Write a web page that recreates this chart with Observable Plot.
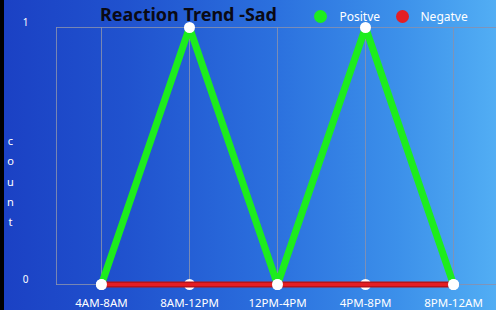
<!DOCTYPE html>
<html>
<head>
<meta charset="utf-8">
<script src="https://cdn.jsdelivr.net/npm/d3@7"></script>
<script src="https://cdn.jsdelivr.net/npm/@observablehq/plot@0.6"></script>
<style>
  html, body { margin: 0; padding: 0; overflow: hidden; background: #000; width: 496px; height: 310px; }
  #chart { width: 497px; height: 310px; }
</style>
</head>
<body>
<div id="chart"></div>
<script>
const categories = ["4AM-8AM", "8AM-12PM", "12PM-4PM", "4PM-8PM", "8PM-12AM"];
const positive = [0, 1, 0, 1, 0];
const negative = [0, 0, 0, 0, 0];
const seriesNames = ["Positve", "Negatve"];
const seriesColors = ["#1ded1d", "#e41e24"];
const yTicks = [0, 1];
const title = "Reaction Trend -Sad";
const yLabel = "count";

const posData = categories.map((c, i) => ({cat: c, value: positive[i]}));
const negData = categories.map((c, i) => ({cat: c, value: negative[i]}));

const gridColor = "rgba(135,145,175,0.85)";

const chart = Plot.plot({
  width: 497,
  height: 310,
  marginLeft: 56,
  marginRight: 0,
  marginTop: 27,
  marginBottom: 26,
  style: {
    background: "linear-gradient(to right, #000 0px, #000 4px, #1b41c4 4px, #2052ce 25%, #2b70de 55%, #3c90ea 80%, #52aef4 100%)",
    fontFamily: "'Noto Sans', sans-serif",
    color: "white",
    maxWidth: "none"
  },
  x: {type: "point", domain: categories, padding: 0.5, label: null},
  y: {domain: [0, 1], label: null},
  marks: [
    Plot.ruleY(yTicks, {stroke: gridColor, strokeWidth: 1}),
    Plot.ruleX(categories, {stroke: gridColor, strokeWidth: 1}),
    Plot.frame({anchor: "left", stroke: gridColor}),
    Plot.axisX({tickSize: 0, tickPadding: 14, fontSize: 11.5, fill: "white", label: null}),
    Plot.axisY({ticks: yTicks, tickFormat: "d", tickSize: 0, tickPadding: 28, dy: -5, fontSize: 10, fill: "white", label: null}),
    Plot.lineY(posData, {x: "cat", y: "value", stroke: seriesColors[0], strokeWidth: 7, strokeLinejoin: "miter"}),
    Plot.dot(negData, {x: "cat", y: "value", r: 5.5, fill: "white"}),
    Plot.lineY(negData, {x: "cat", y: "value", stroke: "#b81418", strokeWidth: 6}),
    Plot.lineY(negData, {x: "cat", y: "value", stroke: seriesColors[1], strokeWidth: 3}),
    Plot.dot(posData, {x: "cat", y: "value", r: 5.5, fill: "white"}),
    // title
    Plot.text([title], {frameAnchor: "top-left", dx: 132, dy: -12, lineAnchor: "middle", text: d => d, fontSize: 18, fontWeight: "bold", fill: "#0a0a14", textAnchor: "middle"}),
    // legend
    Plot.dot([seriesNames[0]], {frameAnchor: "top-left", dx: 264, dy: -11, r: 6.5, fill: seriesColors[0]}),
    Plot.dot([seriesNames[1]], {frameAnchor: "top-left", dx: 346, dy: -11, r: 6.5, fill: seriesColors[1]}),
    Plot.text([seriesNames[0]], {frameAnchor: "top-left", dx: 283, dy: -10, lineAnchor: "middle", text: d => d, fontSize: 12, fill: "white", textAnchor: "start"}),
    Plot.text([seriesNames[1]], {frameAnchor: "top-left", dx: 364, dy: -10, lineAnchor: "middle", text: d => d, fontSize: 12, fill: "white", textAnchor: "start"}),
    // y label stacked
    Plot.text([yLabel], {frameAnchor: "left", dx: -46, dy: 23, text: d => d.split("").join("\n"), lineHeight: 1.85, fontSize: 11, fill: "white", textAnchor: "middle"})
  ]
});
document.getElementById("chart").appendChild(chart);
</script>
</body>
</html>
